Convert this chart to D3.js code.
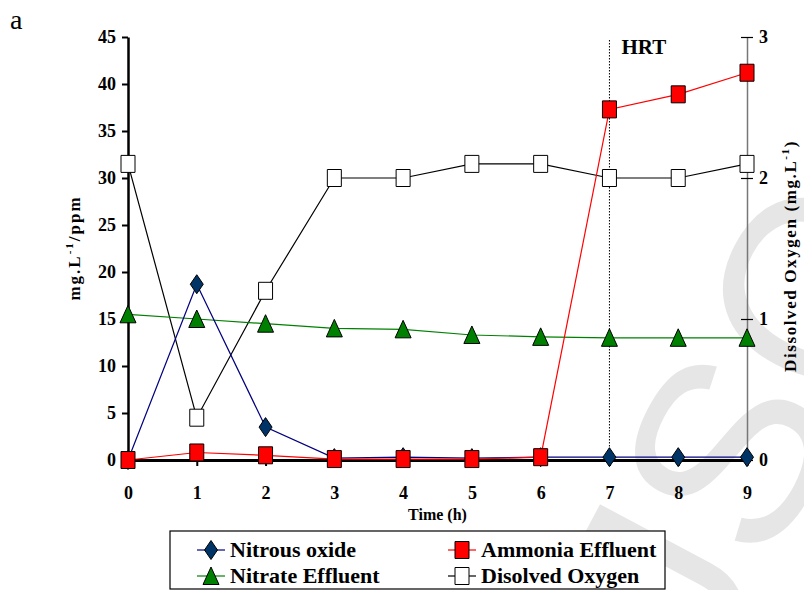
<!DOCTYPE html>
<html>
<head>
<meta charset="utf-8">
<script src="https://cdn.jsdelivr.net/npm/d3@7"></script>
<style>
body{margin:0;background:#fff;}
</style>
</head>
<body>
<div id="chart"></div>
<script>
// ---- data ----
const hours=[0,1,2,3,4,5,6,7,8,9];
const nitrousOxide=[0,18.7,3.5,0.2,0.3,0.2,0.3,0.3,0.3,0.3];
const ammoniaEffluent=[0,0.8,0.5,0.1,0.1,0.1,0.3,37.3,38.9,41.2];
const nitrateEffluent=[15.5,15.0,14.5,14.0,13.9,13.3,13.1,13.0,13.0,13.0];
const dissolvedOxygen=[2.1,0.3,1.2,2.0,2.0,2.1,2.1,2.0,2.0,2.1];
const leftTicks=[0,5,10,15,20,25,30,35,40,45];
const rightTicks=[0,1,2,3];
const hrtHour=7;

const SERIF="'Liberation Serif','Times New Roman',serif";
const W=804,H=590;
const m={top:37,right:57,bottom:130,left:128};
const iw=W-m.left-m.right, ih=H-m.top-m.bottom;

const svg=d3.select('#chart').append('svg').attr('width',W).attr('height',H)
  .attr('font-family',SERIF).style('display','block');

// watermark (light grey, partly off the page)
svg.append('text').attr('transform','translate(706,686) rotate(-62)')
  .attr('fill','#e6e6e6').attr('font-family','Liberation Sans,sans-serif')
  .attr('font-size',260).text('JSC');

const x=d3.scaleLinear().domain([0,9]).range([m.left,m.left+iw]);
const yL=d3.scaleLinear().domain([0,45]).range([m.top+ih,m.top]);
const yR=d3.scaleLinear().domain([0,3]).range([m.top+ih,m.top]);
const y0=m.top+ih;

// panel letter
svg.append('text').attr('x',10).attr('y',29).attr('font-size',28).text('a');

// HRT dotted line
svg.append('line').attr('x1',x(hrtHour)).attr('x2',x(hrtHour))
  .attr('y1',m.top+3).attr('y2',y0).attr('stroke','#000')
  .attr('stroke-width',1).attr('stroke-dasharray','1.5,1.5');
svg.append('text').attr('x',x(hrtHour)+12).attr('y',54)
  .attr('font-size',21).attr('font-weight','bold').text('HRT');

function styleTicks(g){
  g.attr('font-family',SERIF);
  g.selectAll('text').attr('fill','#000').attr('font-size',18).attr('font-weight','bold');
}

// right axis (grey)
const ra=svg.append('g').attr('transform',`translate(${x(9)},0)`)
  .call(d3.axisRight(yR).tickValues(rightTicks).tickSize(6).tickPadding(6).tickSizeOuter(0).tickFormat(d3.format('d')));
ra.select('.domain').attr('stroke','#777').attr('stroke-width',1.5);
ra.selectAll('.tick line').attr('stroke','#000').attr('x1',-6).attr('stroke-width',1.2);
styleTicks(ra);

// left axis
const la=svg.append('g').attr('transform',`translate(${m.left},0)`)
  .call(d3.axisLeft(yL).tickValues(leftTicks).tickSize(6).tickPadding(6).tickSizeOuter(0));
la.select('.domain').attr('stroke','#000').attr('stroke-width',2.5);
la.selectAll('.tick line').attr('stroke','#000').attr('stroke-width',2);
styleTicks(la);

// x axis
const xa=svg.append('g').attr('transform',`translate(0,${y0})`)
  .call(d3.axisBottom(x).tickValues(hours).tickSize(6).tickPadding(20).tickSizeOuter(0).tickFormat(d3.format('d')));
xa.select('.domain').attr('stroke','#000').attr('stroke-width',3);
xa.selectAll('.tick line').attr('stroke','#000').attr('stroke-width',2);
styleTicks(xa);

// axis titles
svg.append('text').attr('x',(x(0)+x(9))/2).attr('y',520).attr('text-anchor','middle')
  .attr('font-size',16).attr('font-weight','bold').text('Time (h)');
const ly=svg.append('text').attr('transform','translate(80,248) rotate(-90)')
  .attr('text-anchor','middle').attr('font-size',17).attr('font-weight','bold')
  .attr('letter-spacing',2);
ly.append('tspan').text('mg.L');
ly.append('tspan').attr('dy',-7).attr('font-size',11).text('-1');
ly.append('tspan').attr('dy',7).text('/ppm');
const ry=svg.append('text').attr('transform','translate(796,256) rotate(-90)')
  .attr('text-anchor','middle').attr('font-size',17).attr('font-weight','bold')
  .attr('letter-spacing',1.6);
ry.append('tspan').text('Dissolved Oxygen (mg.L');
ry.append('tspan').attr('dy',-7).attr('font-size',11).text('-1');
ry.append('tspan').attr('dy',7).text(')');

// marker shapes (slightly taller than wide, as in the original figure)
const shapes={
  square:{draw(c){c.moveTo(-7,-8.5);c.lineTo(7,-8.5);c.lineTo(7,8.5);c.lineTo(-7,8.5);c.closePath();}},
  triangle:{draw(c){c.moveTo(0,-9);c.lineTo(8,8.5);c.lineTo(-8,8.5);c.closePath();}},
  diamond:{draw(c){c.moveTo(0,-9.5);c.lineTo(6.5,0);c.lineTo(0,9.5);c.lineTo(-6.5,0);c.closePath();}}
};
const sym={};
Object.keys(shapes).forEach(k=>{sym[k]=d3.symbol(shapes[k],1);});

// series
const series=[
  {name:'Disolved Oxygen',vals:dissolvedOxygen,y:yR,line:'#000',fill:'#fff',shape:'square'},
  {name:'Nitrate Effluent',vals:nitrateEffluent,y:yL,line:'#008000',fill:'#008000',shape:'triangle'},
  {name:'Nitrous oxide',vals:nitrousOxide,y:yL,line:'#000080',fill:'#003366',shape:'diamond'},
  {name:'Ammonia Effluent',vals:ammoniaEffluent,y:yL,line:'#ff0000',fill:'#ff0000',shape:'square'}
];

series.forEach(s=>{
  const pts=hours.map((h,i)=>[x(h),s.y(s.vals[i])]);
  svg.append('path').datum(pts).attr('d',d3.line())
    .attr('fill','none').attr('stroke',s.line).attr('stroke-width',1.2);
  svg.selectAll(null).data(pts).enter().append('path')
    .attr('transform',d=>`translate(${d[0]},${d[1]})`)
    .attr('d',sym[s.shape]()).attr('fill',s.fill).attr('stroke','#000').attr('stroke-width',1);
});

// legend
const lg=svg.append('g');
lg.append('rect').attr('x',170).attr('y',531).attr('width',495).attr('height',58)
  .attr('fill','#fff').attr('stroke','#000').attr('stroke-width',1.2);
const legendItems=[
  {s:series[2],lx:197,ly:550},
  {s:series[3],lx:448,ly:550},
  {s:series[1],lx:197,ly:576},
  {s:series[0],lx:448,ly:576}
];
legendItems.forEach(it=>{
  lg.append('line').attr('x1',it.lx).attr('x2',it.lx+28).attr('y1',it.ly).attr('y2',it.ly)
    .attr('stroke',it.s.line).attr('stroke-width',1.2);
  lg.append('path').attr('transform',`translate(${it.lx+14},${it.ly})`)
    .attr('d',sym[it.s.shape]()).attr('fill',it.s.fill).attr('stroke','#000').attr('stroke-width',1);
  lg.append('text').attr('x',it.lx+33).attr('y',it.ly+7)
    .attr('font-size',22).attr('font-weight','bold').text(it.s.name);
});
</script>
</body>
</html>
